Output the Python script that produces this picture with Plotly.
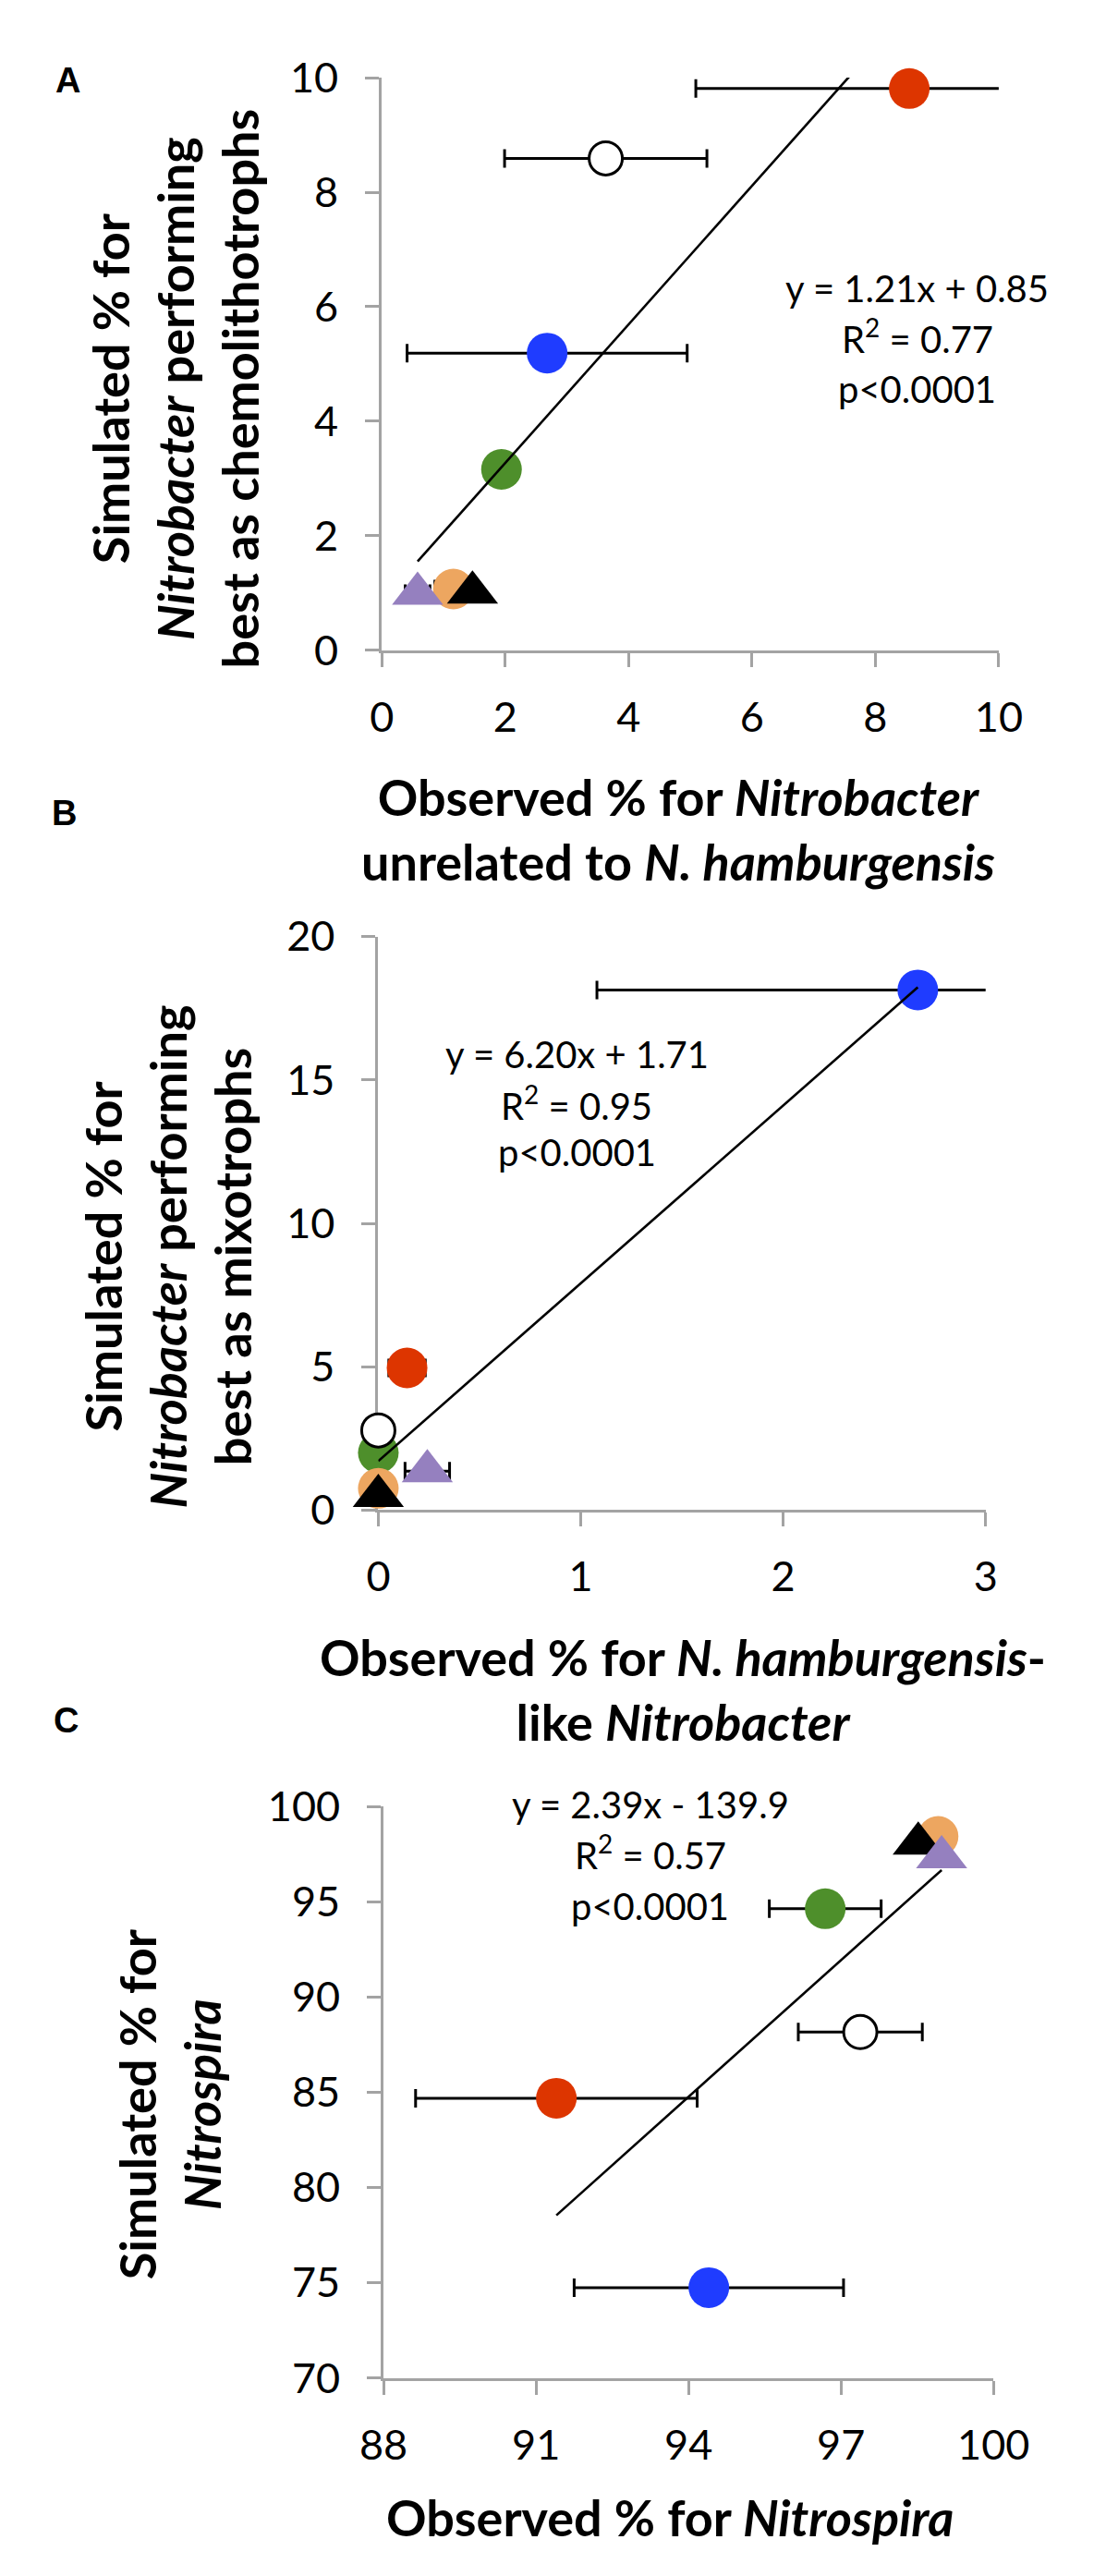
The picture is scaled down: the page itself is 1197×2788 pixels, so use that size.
import plotly.graph_objects as go

W, H = 1197, 2788

# marker order (draw order): green, white, red, blue, orange, black, purple
fills = ["#4E8F2B", "#FFFFFF", "#DD3500", "#1F3CFF", "#EDA660", "#000000", "#9580BF"]
symbols = ["circle", "circle", "circle", "circle", "circle", "triangle-up", "triangle-up"]
sizes = [44, 36, 44, 44, 44, 48, 48]
edge_w = [0, 3, 0, 0, 0, 0, 0]

# panel A: chemolithotrophs
a_x = [1.94, 3.63, 8.55, 2.68, 1.16, 1.47, 0.58]
a_y = [3.16, 8.59, 9.81, 5.19, 1.07, 1.01, 0.99]
a_err = [0.0, 1.64, 3.46, 2.27, 0.30, 0.0, 0.20]
a_fit = (1.21, 0.85)
a_eq = ["y = 1.21x + 0.85", "R<sup>2</sup> = 0.77", "p&lt;0.0001"]

# panel B: mixotrophs
b_x = [0.0, 0.0, 0.142, 2.665, 0.0, 0.0, 0.242]
b_y = [2.0, 2.78, 4.96, 18.14, 0.76, 0.5, 1.36]
b_err = [0.0, 0.0, 0.09, 1.585, 0.0, 0.0, 0.11]
b_fit = (6.20, 1.71)
b_eq = ["y = 6.20x + 1.71", "R<sup>2</sup> = 0.95", "p&lt;0.0001"]

# panel C: Nitrospira
c_x = [96.69, 97.38, 91.40, 94.40, 98.91, 98.52, 98.98]
c_y = [94.63, 88.16, 84.69, 74.75, 98.43, 98.05, 97.34]
c_err = [1.10, 1.22, 2.77, 2.65, 0.0, 0.0, 0.0]
c_fit = (2.39, -139.9)
c_eq = ["y = 2.39x - 139.9", "R<sup>2</sup> = 0.57", "p&lt;0.0001"]

FONT = "Lato"
GREY = "#A3A3A3"

fig = go.Figure()


def px(x):
    return x / W


def py(y):
    return 1 - y / H


def add_panel(k, xs, ys, errs, fit, box, xr, yr, xdt, ydt):
    main = "" if k == 1 else str(k)
    over = str(k + 1)
    # error bars on the main (clipped) subplot
    ex = [x for x, e in zip(xs, errs) if e > 0]
    ey = [y for y, e in zip(ys, errs) if e > 0]
    ee = [e for e in errs if e > 0]
    fig.add_trace(go.Scatter(
        x=ex, y=ey, mode="markers", marker=dict(size=1, opacity=0),
        error_x=dict(type="data", array=ee, color="black", thickness=3, width=10),
        xaxis="x" + main, yaxis="y" + main, showlegend=False, hoverinfo="skip"))
    # markers on the overlay, not clipped
    fig.add_trace(go.Scatter(
        x=xs, y=ys, mode="markers", cliponaxis=False,
        marker=dict(color=fills, symbol=symbols, size=sizes,
                    line=dict(color="black", width=edge_w), opacity=1),
        xaxis="x" + over, yaxis="y" + over, showlegend=False))
    m, b = fit
    lx = [min(xs), max(xs)]
    fig.add_trace(go.Scatter(
        x=lx, y=[m * v + b for v in lx], mode="lines",
        line=dict(color="black", width=2.6),
        xaxis="x" + over, yaxis="y" + over, showlegend=False))

    x0, x1, y0, y1 = box
    axis = dict(showline=True, linecolor=GREY, linewidth=3, ticks="outside",
                ticklen=15, tickwidth=3, tickcolor=GREY, showgrid=False,
                zeroline=False, layer="below traces",
                tickfont=dict(family=FONT, size=45, color="black"))
    fig.update_layout({
        "xaxis" + main: dict(axis, domain=[px(x0), px(x1)], range=xr, dtick=xdt,
                             tick0=xr[0], anchor="y" + main, ticklabelstandoff=16),
        "yaxis" + main: dict(axis, domain=[py(y1), py(y0)], range=yr, dtick=ydt,
                             tick0=yr[0], anchor="x" + main, ticklabelstandoff=20),
        "xaxis" + over: dict(overlaying="x" + main, range=xr, visible=False,
                             anchor="y" + over),
        "yaxis" + over: dict(overlaying="y" + main, range=yr, visible=False,
                             anchor="x" + over),
    })


add_panel(1, a_x, a_y, a_err, a_fit, (401, 1107, 49, 681), [0, 10], [0, 10], 2, 2)
add_panel(3, b_x, b_y, b_err, b_fit, (397, 1092, 997, 1630), [0, 3], [0, 20], 1, 5)
add_panel(5, c_x, c_y, c_err, c_fit, (403, 1101, 1957, 2588), [88, 100], [70, 100], 3, 5)


def note(x, y, text, size, angle=0, family=FONT):
    fig.add_annotation(x=px(x), y=py(y), xref="paper", yref="paper", text=text,
                       showarrow=False, textangle=angle, xanchor="center",
                       yanchor="middle", align="center",
                       font=dict(family=family, size=size, color="black"))


TS = 54
note(164, 392, "<b>Simulated % for<br><i>Nitrobacter</i> performing<br>"
     "best as chemolithotrophs</b>", TS, -90)
note(740, 879, "<b>Observed % for <i>Nitrobacter</i><br>"
     "unrelated to <i>N. hamburgensis</i></b>", TS)
note(156, 1350, "<b>Simulated % for<br><i>Nitrobacter</i> performing<br>"
     "best as mixotrophs</b>", TS, -90)
note(746, 1828, "<b>Observed % for <i>N. hamburgensis</i>-<br>"
     "like <i>Nitrobacter</i></b>", TS)
note(158, 2286, "<b>Simulated % for<br><i>Nitrospira</i></b>", TS, -90)
note(731, 2742, "<b>Observed % for <i>Nitrospira</i></b>", TS)

for (ex, eys), eq in [((1014, (281, 334, 393)), a_eq),
                      ((624, (1127, 1181, 1235)), b_eq),
                      ((708, (1955, 2008, 2067)), c_eq)]:
    for yy, t in zip(eys, eq):
        note(ex, yy, t, 40)

for (lx, ly), lab in zip([(42, 52), (38, 861), (40, 1862)], ["A", "B", "C"]):
    note(lx, ly, "<b>" + lab + "</b>", 38, family="Liberation Sans")

fig.update_layout(width=W, height=H, margin=dict(l=0, r=0, t=0, b=0),
                  paper_bgcolor="white", plot_bgcolor="white",
                  font=dict(family=FONT, color="black"), showlegend=False)

fig.write_html("out.html")
